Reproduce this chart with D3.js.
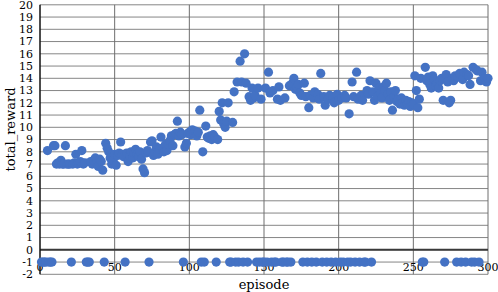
<!DOCTYPE html>
<html>
<head>
<meta charset="utf-8">
<script src="https://cdn.jsdelivr.net/npm/d3@7"></script>
<style>
  html, body { margin: 0; padding: 0; background: #fff; }
</style>
</head>
<body>
<svg id="chart" width="498" height="292"></svg>
<script>
// total_reward per episode (1..300), -1 = failed episode
const rewards = [
  -1, -1, -1, -1, 8.1, -1, -1, -1, 8.5, 8.5,
  7.0, 7.1, 7.0, 7.3, 7.0, 7.0, 8.5, 7.0, 7.0, 7.0,
  -1, 7.0, 7.1, 7.8, 7.0, 7.1, 7.2, 8.1, 7.0, 7.1,
  -1, -1, -1, 7.2, 7.0, 7.3, 7.5, 7.1, 6.8, 7.4,
  7.2, 6.5, -1, 8.7, 8.3, 8.0, 7.5, 7.0, 7.3, 7.8,
  6.9, 7.7, 7.9, 8.8, 7.8, 7.6, -1, 7.9, 7.2, 7.7,
  8.0, 7.5, 7.9, 8.2, 7.8, 7.6, 8.0, 7.4, 6.6, 6.3,
  7.9, 8.1, -1, 8.8, 8.9, 7.7, 8.0, 8.4, 7.8, 8.2,
  9.2, 8.3, 8.0, 8.6, 8.1, 8.6, 8.9, 9.3, 8.5, 9.4,
  9.5, 10.5, 9.3, 9.6, 9.4, -1, 8.4, 8.7, 9.5, 9.6,
  9.4, 9.8, 9.5, 9.7, 9.3, 9.6, 11.4, -1, 8.0, -1,
  10.1, 9.2, 9.1, 9.3, 9.0, 9.4, 9.2, -1, 9.0, 11.3,
  10.6, 12.0, 10.3, 10.0, 10.5, 12.0, -1, -1, 10.4, 12.9,
  -1, 13.7, -1, 15.4, 13.7, -1, 16.0, 13.6, -1, 12.5,
  12.2, 13.2, 12.4, 12.6, -1, 13.2, -1, 12.3, -1, -1,
  13.2, -1, 14.5, 12.8, -1, 13.0, -1, -1, 12.3, 13.3,
  12.2, -1, -1, 12.4, -1, -1, 13.4, -1, 13.6, 14.0,
  13.1, 13.3, 13.5, 12.8, 12.6, -1, 13.6, 12.5, -1, 11.6,
  12.6, -1, 12.4, 12.9, -1, 12.7, 12.3, 14.4, -1, 12.5,
  11.8, -1, 12.3, 12.6, -1, 12.5, 12.0, -1, 12.7, 12.2,
  -1, 12.4, -1, 12.6, 12.4, -1, 11.1, -1, 13.7, 12.5,
  -1, 14.5, 12.3, -1, 12.6, 12.2, -1, -1, 13.0, 12.7,
  13.8, -1, 12.9, 12.2, 13.6, 12.5, 13.2, 12.8, 12.4, 13.3,
  13.0, 13.6, 12.7, 12.2, 12.9, 11.4, 12.5, 13.0, 12.1, 12.3,
  11.9, 12.4, 12.0, 11.8, 12.2, 11.9, 12.1, 11.7, 12.0, 11.9,
  14.2, 13.0, 11.6, 12.3, 14.0, -1, -1, 14.9, 13.8, 14.1,
  13.5, 13.2, 14.2, 13.9, 13.4, 13.6, 13.2, 13.8, 14.0, 12.2,
  -1, 14.3, 13.7, 12.0, 12.2, 14.0, 13.8, 14.2, -1, 14.1,
  14.4, -1, 13.9, 14.5, -1, 14.3, 14.2, 13.5, -1, 14.9,
  -1, 14.7, 14.6, -1, 13.8, 14.5, 13.9, 14.0, 13.7, 14.0
]
const xTicks = [0, 50, 100, 150, 200, 250, 300]
const yTicks = d3.range(-2, 21)

const FONT = "'DejaVu Serif', 'Liberation Serif', 'Times New Roman', serif"
const svg = d3.select('#chart')
const plotL = 40, plotR = 488, plotT = 4.8, plotB = 274.3

const x = d3.scaleLinear().domain([0, 300]).range([plotL, plotR])
const y = d3.scaleLinear().domain([-2, 20]).range([plotB, plotT])

// horizontal gridlines
svg.append('g').selectAll('line')
  .data(yTicks).join('line')
  .attr('x1', plotL).attr('x2', plotR)
  .attr('y1', d => y(d)).attr('y2', d => y(d))
  .attr('stroke', '#868686').attr('stroke-width', 1)

// vertical gridlines
svg.append('g').selectAll('line')
  .data(xTicks.slice(1)).join('line')
  .attr('x1', d => x(d)).attr('x2', d => x(d))
  .attr('y1', plotT).attr('y2', plotB)
  .attr('stroke', '#6e6e6e').attr('stroke-width', 1)

// zero axis line
svg.append('line')
  .attr('x1', plotL).attr('x2', plotR)
  .attr('y1', y(0)).attr('y2', y(0))
  .attr('stroke', '#3a3a3a').attr('stroke-width', 2)

// left axis line
svg.append('line')
  .attr('x1', plotL).attr('x2', plotL)
  .attr('y1', plotT).attr('y2', plotB)
  .attr('stroke', '#111').attr('stroke-width', 1.5)

// y tick labels
svg.append('g').selectAll('text')
  .data(yTicks).join('text')
  .attr('x', 33).attr('y', d => y(d))
  .attr('dy', '0.35em')
  .attr('text-anchor', 'end')
  .attr('font-family', FONT)
  .attr('font-size', 11)
  .text(d => d)

// x tick labels
svg.append('g').selectAll('text')
  .data(xTicks).join('text')
  .attr('x', d => x(d)).attr('y', 271)
  .attr('text-anchor', 'middle')
  .attr('font-family', FONT)
  .attr('font-size', 11)
  .text(d => d)

// points
svg.append('g').selectAll('circle')
  .data(rewards).join('circle')
  .attr('cx', (d, i) => x(i + 1))
  .attr('cy', d => y(d))
  .attr('r', 4.6)
  .attr('fill', '#4472c4')

// axis titles
svg.append('text')
  .attr('x', x(150)).attr('y', 289)
  .attr('text-anchor', 'middle')
  .attr('font-family', FONT)
  .attr('font-size', 13)
  .text('episode')

svg.append('text')
  .attr('transform', `translate(15,${(plotT + plotB) / 2 - 10}) rotate(-90)`)
  .attr('text-anchor', 'middle')
  .attr('font-family', FONT)
  .attr('font-size', 13)
  .text('total_reward')
</script>
</body>
</html>
